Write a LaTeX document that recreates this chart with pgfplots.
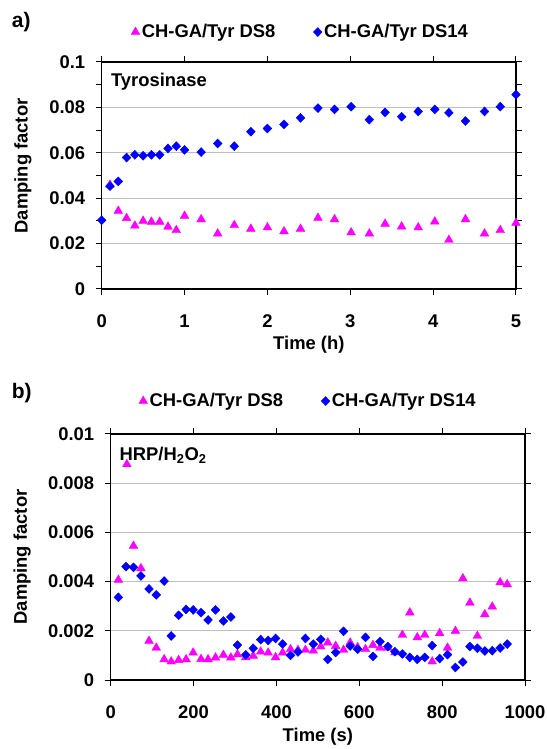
\documentclass[border=0pt]{standalone}
\usepackage{fontspec}
\setmainfont{Liberation Sans}
\usepackage{pgfplots}
\pgfplotsset{compat=1.18}
\definecolor{dsmag}{RGB}{255,0,255}
\definecolor{dsblue}{RGB}{0,0,255}

\pgfplotsset{
  damp/.style={
    scale only axis, clip=false,
    axis line style={line width=1.2bp},
    tick align=outside, major tick length=6bp, minor tick length=6bp,
    every tick/.style={black, line width=1bp},
    ymajorgrids, grid style={draw=black!25, line width=0.7bp},
    scaled ticks=false,
    /pgf/number format/fixed, /pgf/number format/precision=3,
    /pgf/number format/1000 sep={},
    /pgf/number format/assume math mode=true,
    xticklabel style={yshift=-16bp},
    yticklabel style={xshift=-7bp},
    legend columns=2,
    legend style={draw=none, fill=none, anchor=center,
      /tikz/every even column/.append style={column sep=36bp}},
    legend image code/.code={\draw[##1] plot coordinates {(0bp,0bp)};},
    ylabel={Damping factor},
    ylabel style={anchor=center},
    xlabel style={anchor=center},
  },
  s8/.style={only marks, mark=triangle*, mark size=5bp, color=dsmag},
  s14/.style={only marks, mark=diamond*, mark size=4.5bp,
    mark options={xscale=1.3}, color=dsblue},
}

\begin{document}
\begin{tikzpicture}[font=\fontsize{18.4bp}{22bp}\selectfont\bfseries]
\useasboundingbox (0,0) rectangle (547bp,749bp);

% a) tyrosinase
\begin{axis}[damp,
  at={(101.7bp,460bp)}, anchor=south west,
  width=414.3bp, height=227bp,
  xmin=0, xmax=5, ymin=0, ymax=0.1,
  xtick={0,1,2,3,4,5},
  ytick={0,0.02,0.04,0.06,0.08,0.1},
  minor ytick={0.01,0.03,0.05,0.07,0.09},
  xlabel={Time (h)},
  xlabel style={at={(axis description cs:0.5,-0.247)}},
  ylabel style={at={(axis description cs:-0.19,0.542)}},
  legend style={at={(axis description cs:0.48,1.132)}},
]
\addplot[s8] coordinates {
(0.1,0.0459)(0.2,0.0344)(0.3,0.0312)(0.4,0.0279)(0.5,0.0300)(0.6,0.0296)
(0.7,0.0296)(0.8,0.0274)(0.9,0.0259)(1.0,0.0322)(1.2,0.0307)(1.4,0.0244)
(1.6,0.0281)(1.8,0.0265)(2.0,0.0271)(2.2,0.0254)(2.4,0.0265)(2.61,0.0313)
(2.81,0.0307)(3.01,0.0249)(3.23,0.0244)(3.42,0.0287)(3.62,0.0275)(3.82,0.0271)
(4.02,0.0297)(4.19,0.0216)(4.39,0.0307)(4.62,0.0244)(4.81,0.0259)(5.0,0.0291)
};
\addlegendentry{CH-GA/Tyr DS8}
\addplot[s14] coordinates {
(0,0.0303)(0.1,0.0453)(0.2,0.0474)(0.3,0.0579)(0.4,0.0591)(0.5,0.0587)
(0.6,0.0591)(0.7,0.0591)(0.8,0.0619)(0.9,0.0629)(1.0,0.0613)(1.2,0.0603)
(1.4,0.0641)(1.6,0.0629)(1.8,0.0693)(2.0,0.0707)(2.2,0.0725)(2.4,0.0754)
(2.61,0.0797)(2.81,0.0791)(3.01,0.0803)(3.23,0.0746)(3.42,0.0778)(3.62,0.0759)
(3.82,0.0782)(4.02,0.0791)(4.19,0.0776)(4.39,0.0740)(4.62,0.0782)(4.81,0.0803)
(5.0,0.0856)
};
\addlegendentry{CH-GA/Tyr DS14}
\node[anchor=north west, inner sep=0pt] at (axis description cs:0.022,0.952) {Tyrosinase};
\end{axis}

% b) HRP/H2O2
\begin{axis}[damp,
  at={(110.7bp,69bp)}, anchor=south west,
  width=414.3bp, height=246bp,
  xmin=0, xmax=1000, ymin=0, ymax=0.01,
  xtick={0,200,400,600,800,1000},
  ytick={0,0.002,0.004,0.006,0.008,0.01},
  xlabel={Time (s)},
  xlabel style={at={(axis description cs:0.5,-0.232)}},
  ylabel style={at={(axis description cs:-0.214,0.5)}},
  legend style={at={(axis description cs:0.477,1.134)}},
]
\addplot[s8] coordinates {
(18.5,0.00407)(39,0.00877)(55,0.00545)(73,0.00454)(92.5,0.00159)(110,0.00131)
(129,0.00084)(146,0.00075)(164,0.00081)(182,0.00084)(199,0.00111)(218,0.00085)
(235,0.00084)(253,0.00091)(272,0.00102)(290,0.00091)(306,0.00104)(326,0.00092)
(344,0.00098)(362,0.00115)(380,0.00111)(398,0.00092)(415,0.00111)(434,0.00125)
(452,0.00122)(470,0.00122)(489,0.00119)(507,0.00136)(524,0.00152)(543,0.00138)
(562,0.00122)(578,0.00152)(596,0.00133)(615,0.00125)(633,0.00142)(650,0.00131)
(669,0.00131)(686,0.00112)(704,0.00183)(722,0.00274)(740,0.00173)(758,0.00183)
(776,0.00075)(794,0.00190)(813,0.00131)(832,0.00199)(850,0.00413)(867,0.00314)
(885,0.00179)(903,0.00267)(921,0.00298)(940,0.00397)(957,0.00389)
};
\addlegendentry{CH-GA/Tyr DS8}
\addplot[s14] coordinates {
(18.5,0.00336)(37,0.00461)(55,0.00458)(73,0.00423)(92.5,0.00370)(110,0.00346)
(129,0.00402)(146,0.00179)(164,0.00263)(182,0.00287)(199,0.00285)(218,0.00274)
(235,0.00244)(253,0.00285)(272,0.00240)(290,0.00256)(306,0.00142)(326,0.00102)
(344,0.00129)(362,0.00164)(380,0.00161)(398,0.00169)(415,0.00146)(434,0.00100)
(452,0.00114)(470,0.00169)(489,0.00146)(507,0.00165)(524,0.00084)(543,0.00112)
(562,0.00198)(578,0.00138)(596,0.00125)(615,0.00173)(633,0.00096)(650,0.00156)
(669,0.00136)(686,0.00115)(704,0.00106)(722,0.00092)(740,0.00084)(758,0.00092)
(776,0.00140)(794,0.00087)(813,0.00103)(832,0.00051)(850,0.00073)(867,0.00136)
(885,0.00129)(903,0.00118)(921,0.00119)(940,0.00130)(957,0.00146)
};
\addlegendentry{CH-GA/Tyr DS14}
\node[anchor=north west, inner sep=0pt] at (axis description cs:0.021,0.948) {HRP/H\textsubscript{2}O\textsubscript{2}};
\end{axis}

\node[anchor=west, inner sep=0pt, font=\fontsize{21bp}{24bp}\selectfont\bfseries] at (11.7bp,727bp) {a)};
\node[anchor=west, inner sep=0pt, font=\fontsize{21bp}{24bp}\selectfont\bfseries] at (11.7bp,356bp) {b)};
\end{tikzpicture}
\end{document}
